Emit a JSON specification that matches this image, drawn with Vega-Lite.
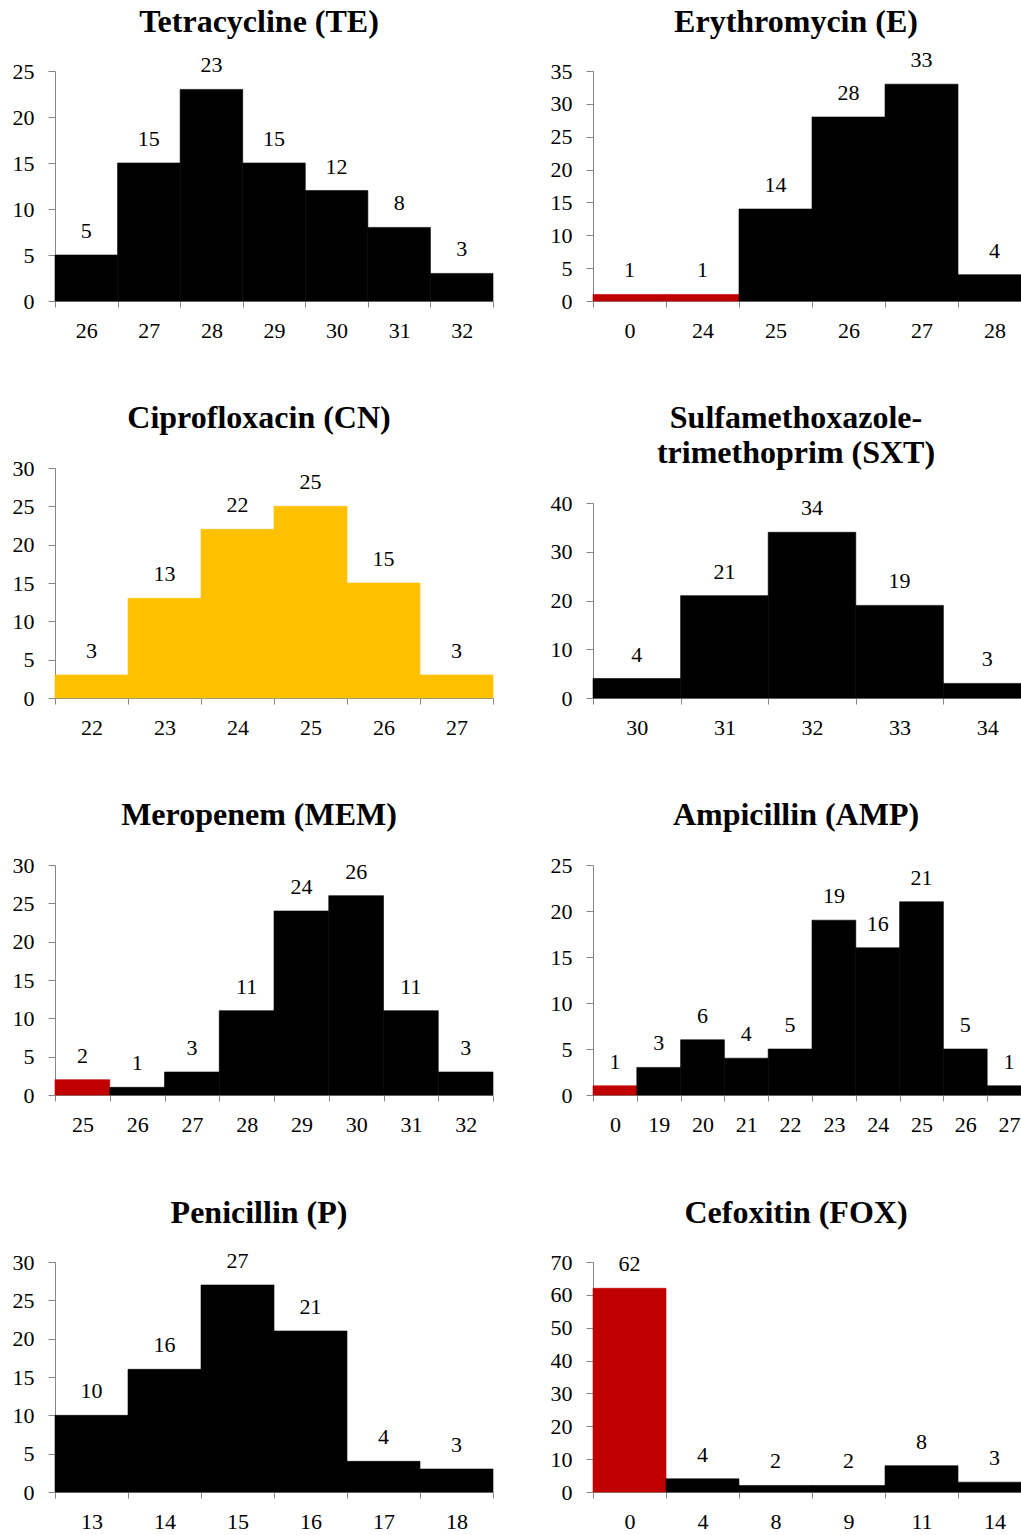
{
  "$schema": "https://vega.github.io/schema/vega-lite/v6.json",
  "padding": {"left": 12, "top": 6, "right": 0, "bottom": 0},
  "autosize": {"type": "pad"},
  "columns": 2,
  "spacing": {"row": 167, "column": 100},
  "bounds": "flush",
  "datasets": {
    "TE": [
      {"bin": 26, "n": 5, "group": "S"}, {"bin": 27, "n": 15, "group": "S"}, {"bin": 28, "n": 23, "group": "S"},
      {"bin": 29, "n": 15, "group": "S"}, {"bin": 30, "n": 12, "group": "S"}, {"bin": 31, "n": 8, "group": "S"},
      {"bin": 32, "n": 3, "group": "S"}
    ],
    "E": [
      {"bin": 0, "n": 1, "group": "R"}, {"bin": 24, "n": 1, "group": "R"}, {"bin": 25, "n": 14, "group": "S"},
      {"bin": 26, "n": 28, "group": "S"}, {"bin": 27, "n": 33, "group": "S"}, {"bin": 28, "n": 4, "group": "S"}
    ],
    "CN": [
      {"bin": 22, "n": 3, "group": "I"}, {"bin": 23, "n": 13, "group": "I"}, {"bin": 24, "n": 22, "group": "I"},
      {"bin": 25, "n": 25, "group": "I"}, {"bin": 26, "n": 15, "group": "I"}, {"bin": 27, "n": 3, "group": "I"}
    ],
    "SXT": [
      {"bin": 30, "n": 4, "group": "S"}, {"bin": 31, "n": 21, "group": "S"}, {"bin": 32, "n": 34, "group": "S"},
      {"bin": 33, "n": 19, "group": "S"}, {"bin": 34, "n": 3, "group": "S"}
    ],
    "MEM": [
      {"bin": 25, "n": 2, "group": "R"}, {"bin": 26, "n": 1, "group": "S"}, {"bin": 27, "n": 3, "group": "S"},
      {"bin": 28, "n": 11, "group": "S"}, {"bin": 29, "n": 24, "group": "S"}, {"bin": 30, "n": 26, "group": "S"},
      {"bin": 31, "n": 11, "group": "S"}, {"bin": 32, "n": 3, "group": "S"}
    ],
    "AMP": [
      {"bin": 0, "n": 1, "group": "R"}, {"bin": 19, "n": 3, "group": "S"}, {"bin": 20, "n": 6, "group": "S"},
      {"bin": 21, "n": 4, "group": "S"}, {"bin": 22, "n": 5, "group": "S"}, {"bin": 23, "n": 19, "group": "S"},
      {"bin": 24, "n": 16, "group": "S"}, {"bin": 25, "n": 21, "group": "S"}, {"bin": 26, "n": 5, "group": "S"},
      {"bin": 27, "n": 1, "group": "S"}
    ],
    "P": [
      {"bin": 13, "n": 10, "group": "S"}, {"bin": 14, "n": 16, "group": "S"}, {"bin": 15, "n": 27, "group": "S"},
      {"bin": 16, "n": 21, "group": "S"}, {"bin": 17, "n": 4, "group": "S"}, {"bin": 18, "n": 3, "group": "S"}
    ],
    "FOX": [
      {"bin": 0, "n": 62, "group": "R"}, {"bin": 4, "n": 4, "group": "S"}, {"bin": 8, "n": 2, "group": "S"},
      {"bin": 9, "n": 2, "group": "S"}, {"bin": 11, "n": 8, "group": "S"}, {"bin": 14, "n": 3, "group": "S"}
    ]
  },
  "concat": [
    {
      "width": 438, "height": 230, "data": {"name": "TE"},
      "title": {"text": "Tetracycline (TE)", "offset": 15, "dx": -15},
      "encoding": {
        "x": {"field": "bin", "type": "ordinal", "title": null, "scale": {"paddingInner": 0, "paddingOuter": 0}, "axis": {"labelAngle": 0, "tickBand": "extent"}},
        "y": {"field": "n", "type": "quantitative", "title": null, "scale": {"domain": [0, 25]}, "axis": {"values": [0, 5, 10, 15, 20, 25]}}
      },
      "layer": [
        {"mark": {"type": "bar", "strokeWidth": 0.6}, "encoding": {
          "color": {"field": "group", "type": "nominal", "scale": {"domain": ["S", "R", "I"], "range": ["#000000", "#c00000", "#ffc000"]}, "legend": null},
          "stroke": {"field": "group", "type": "nominal", "scale": {"domain": ["S", "R", "I"], "range": ["#000000", "#c00000", "#ffc000"]}, "legend": null}}},
        {"mark": {"type": "text", "baseline": "alphabetic", "dy": -17}, "encoding": {"text": {"field": "n", "type": "quantitative"}}}
      ]
    },
    {
      "width": 438, "height": 230, "data": {"name": "E"},
      "title": {"text": "Erythromycin (E)", "offset": 10, "dx": -16},
      "encoding": {
        "x": {"field": "bin", "type": "ordinal", "title": null, "scale": {"paddingInner": 0, "paddingOuter": 0}, "axis": {"labelAngle": 0, "tickBand": "extent"}},
        "y": {"field": "n", "type": "quantitative", "title": null, "scale": {"domain": [0, 35]}, "axis": {"values": [0, 5, 10, 15, 20, 25, 30, 35]}}
      },
      "layer": [
        {"mark": {"type": "bar", "strokeWidth": 0.6}, "encoding": {
          "color": {"field": "group", "type": "nominal", "scale": {"domain": ["S", "R", "I"], "range": ["#000000", "#c00000", "#ffc000"]}, "legend": null},
          "stroke": {"field": "group", "type": "nominal", "scale": {"domain": ["S", "R", "I"], "range": ["#000000", "#c00000", "#ffc000"]}, "legend": null}}},
        {"mark": {"type": "text", "baseline": "alphabetic", "dy": -17}, "encoding": {"text": {"field": "n", "type": "quantitative"}}}
      ]
    },
    {
      "width": 438, "height": 230, "data": {"name": "CN"},
      "title": {"text": "Ciprofloxacin (CN)", "offset": 22, "dx": -15},
      "encoding": {
        "x": {"field": "bin", "type": "ordinal", "title": null, "scale": {"paddingInner": 0, "paddingOuter": 0}, "axis": {"labelAngle": 0, "tickBand": "extent"}},
        "y": {"field": "n", "type": "quantitative", "title": null, "scale": {"domain": [0, 30]}, "axis": {"values": [0, 5, 10, 15, 20, 25, 30]}}
      },
      "layer": [
        {"mark": {"type": "bar", "strokeWidth": 0.6}, "encoding": {
          "color": {"field": "group", "type": "nominal", "scale": {"domain": ["S", "R", "I"], "range": ["#000000", "#c00000", "#ffc000"]}, "legend": null},
          "stroke": {"field": "group", "type": "nominal", "scale": {"domain": ["S", "R", "I"], "range": ["#000000", "#c00000", "#ffc000"]}, "legend": null}}},
        {"mark": {"type": "text", "baseline": "alphabetic", "dy": -17}, "encoding": {"text": {"field": "n", "type": "quantitative"}}}
      ]
    },
    {
      "width": 438, "height": 230, "data": {"name": "SXT"},
      "title": {"text": ["Sulfamethoxazole-", "trimethoprim (SXT)"], "offset": -2, "dx": -16},
      "encoding": {
        "x": {"field": "bin", "type": "ordinal", "title": null, "scale": {"paddingInner": 0, "paddingOuter": 0}, "axis": {"labelAngle": 0, "tickBand": "extent"}},
        "y": {"field": "n", "type": "quantitative", "title": null, "scale": {"domain": [0, 40], "range": [230, 35]}, "axis": {"values": [0, 10, 20, 30, 40]}}
      },
      "layer": [
        {"mark": {"type": "bar", "strokeWidth": 0.6}, "encoding": {
          "color": {"field": "group", "type": "nominal", "scale": {"domain": ["S", "R", "I"], "range": ["#000000", "#c00000", "#ffc000"]}, "legend": null},
          "stroke": {"field": "group", "type": "nominal", "scale": {"domain": ["S", "R", "I"], "range": ["#000000", "#c00000", "#ffc000"]}, "legend": null}}},
        {"mark": {"type": "text", "baseline": "alphabetic", "dy": -17}, "encoding": {"text": {"field": "n", "type": "quantitative"}}}
      ]
    },
    {
      "width": 438, "height": 230, "data": {"name": "MEM"},
      "title": {"text": "Meropenem (MEM)", "offset": 22, "dx": -15},
      "encoding": {
        "x": {"field": "bin", "type": "ordinal", "title": null, "scale": {"paddingInner": 0, "paddingOuter": 0}, "axis": {"labelAngle": 0, "tickBand": "extent"}},
        "y": {"field": "n", "type": "quantitative", "title": null, "scale": {"domain": [0, 30]}, "axis": {"values": [0, 5, 10, 15, 20, 25, 30]}}
      },
      "layer": [
        {"mark": {"type": "bar", "strokeWidth": 0.6}, "encoding": {
          "color": {"field": "group", "type": "nominal", "scale": {"domain": ["S", "R", "I"], "range": ["#000000", "#c00000", "#ffc000"]}, "legend": null},
          "stroke": {"field": "group", "type": "nominal", "scale": {"domain": ["S", "R", "I"], "range": ["#000000", "#c00000", "#ffc000"]}, "legend": null}}},
        {"mark": {"type": "text", "baseline": "alphabetic", "dy": -17}, "encoding": {"text": {"field": "n", "type": "quantitative"}}}
      ]
    },
    {
      "width": 438, "height": 230, "data": {"name": "AMP"},
      "title": {"text": "Ampicillin (AMP)", "offset": 22, "dx": -16},
      "encoding": {
        "x": {"field": "bin", "type": "ordinal", "title": null, "scale": {"paddingInner": 0, "paddingOuter": 0}, "axis": {"labelAngle": 0, "tickBand": "extent"}},
        "y": {"field": "n", "type": "quantitative", "title": null, "scale": {"domain": [0, 25]}, "axis": {"values": [0, 5, 10, 15, 20, 25]}}
      },
      "layer": [
        {"mark": {"type": "bar", "strokeWidth": 0.6}, "encoding": {
          "color": {"field": "group", "type": "nominal", "scale": {"domain": ["S", "R", "I"], "range": ["#000000", "#c00000", "#ffc000"]}, "legend": null},
          "stroke": {"field": "group", "type": "nominal", "scale": {"domain": ["S", "R", "I"], "range": ["#000000", "#c00000", "#ffc000"]}, "legend": null}}},
        {"mark": {"type": "text", "baseline": "alphabetic", "dy": -17}, "encoding": {"text": {"field": "n", "type": "quantitative"}}}
      ]
    },
    {
      "width": 438, "height": 230, "data": {"name": "P"},
      "title": {"text": "Penicillin (P)", "offset": 20, "dx": -15},
      "encoding": {
        "x": {"field": "bin", "type": "ordinal", "title": null, "scale": {"paddingInner": 0, "paddingOuter": 0}, "axis": {"labelAngle": 0, "tickBand": "extent"}},
        "y": {"field": "n", "type": "quantitative", "title": null, "scale": {"domain": [0, 30]}, "axis": {"values": [0, 5, 10, 15, 20, 25, 30]}}
      },
      "layer": [
        {"mark": {"type": "bar", "strokeWidth": 0.6}, "encoding": {
          "color": {"field": "group", "type": "nominal", "scale": {"domain": ["S", "R", "I"], "range": ["#000000", "#c00000", "#ffc000"]}, "legend": null},
          "stroke": {"field": "group", "type": "nominal", "scale": {"domain": ["S", "R", "I"], "range": ["#000000", "#c00000", "#ffc000"]}, "legend": null}}},
        {"mark": {"type": "text", "baseline": "alphabetic", "dy": -17}, "encoding": {"text": {"field": "n", "type": "quantitative"}}}
      ]
    },
    {
      "width": 438, "height": 230, "data": {"name": "FOX"},
      "title": {"text": "Cefoxitin (FOX)", "offset": 21, "dx": -16},
      "encoding": {
        "x": {"field": "bin", "type": "ordinal", "title": null, "scale": {"paddingInner": 0, "paddingOuter": 0}, "axis": {"labelAngle": 0, "tickBand": "extent"}},
        "y": {"field": "n", "type": "quantitative", "title": null, "scale": {"domain": [0, 70]}, "axis": {"values": [0, 10, 20, 30, 40, 50, 60, 70]}}
      },
      "layer": [
        {"mark": {"type": "bar", "strokeWidth": 0.6}, "encoding": {
          "color": {"field": "group", "type": "nominal", "scale": {"domain": ["S", "R", "I"], "range": ["#000000", "#c00000", "#ffc000"]}, "legend": null},
          "stroke": {"field": "group", "type": "nominal", "scale": {"domain": ["S", "R", "I"], "range": ["#000000", "#c00000", "#ffc000"]}, "legend": null}}},
        {"mark": {"type": "text", "baseline": "alphabetic", "dy": -17}, "encoding": {"text": {"field": "n", "type": "quantitative"}}}
      ]
    }
  ],
  "config": {
    "font": "Liberation Serif",
    "view": {"stroke": null},
    "axis": {"grid": false, "domainColor": "#868686", "tickColor": "#868686", "labelFont": "Liberation Serif", "labelFontSize": 22, "labelColor": "#000000", "domainWidth": 1, "tickWidth": 1},
    "axisX": {"tickSize": 6, "labelPadding": 13},
    "axisY": {"tickSize": 7, "labelPadding": 14},
    "title": {"font": "Liberation Serif", "fontSize": 32, "fontWeight": "bold", "color": "#000000", "lineHeight": 35, "anchor": "middle"},
    "text": {"font": "Liberation Serif", "fontSize": 22, "color": "#000000"}
  }
}
